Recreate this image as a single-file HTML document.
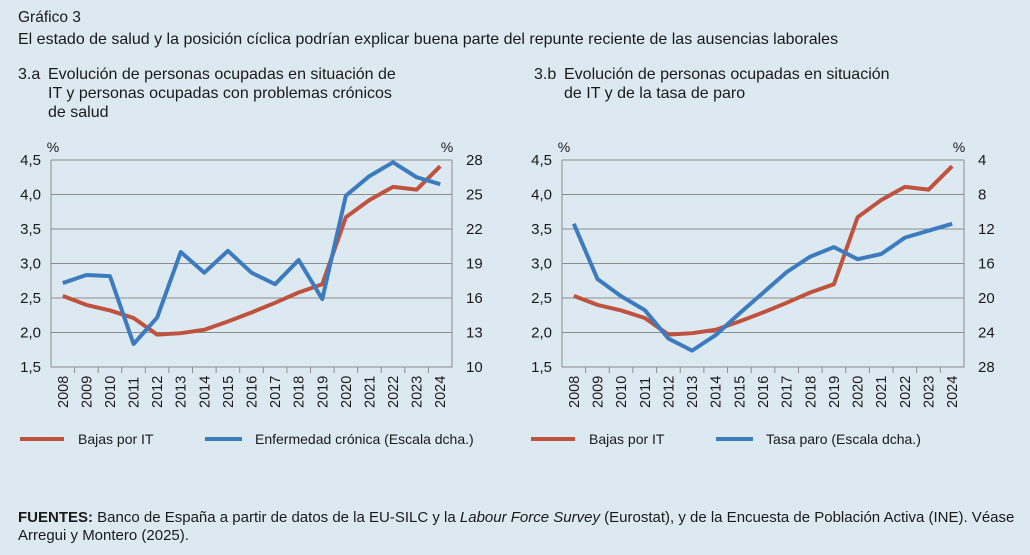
<!DOCTYPE html>
<html><head><meta charset="utf-8"><style>
body{margin:0;background:#dde9f1;}
svg{display:block;font-family:"Liberation Sans",Arial,sans-serif;}
</style></head><body>
<svg id="s" width="1030" height="555" viewBox="0 0 1030 555">
<rect width="1030" height="555" fill="#dde9f1"/>
<text x="18" y="22" font-size="15.5" fill="#1a1a1a">Gráfico 3</text>
<text x="18" y="44" font-size="16" fill="#1a1a1a">El estado de salud y la posición cíclica podrían explicar buena parte del repunte reciente de las ausencias laborales</text>
<g font-size="16" fill="#1a1a1a">
<text x="18" y="79">3.a</text><text x="48" y="79">Evolución de personas ocupadas en situación de</text>
<text x="48" y="98">IT y personas ocupadas con problemas crónicos</text>
<text x="48" y="117">de salud</text></g>
<g font-size="16" fill="#1a1a1a">
<text x="534" y="79">3.b</text><text x="564" y="79">Evolución de personas ocupadas en situación</text>
<text x="564" y="98">de IT y de la tasa de paro</text></g>
<text x="18" y="522" font-size="15" fill="#1a1a1a"><tspan font-weight="bold">FUENTES:</tspan> Banco de España a partir de datos de la EU-SILC y la <tspan font-style="italic">Labour Force Survey</tspan> (Eurostat), y de la Encuesta de Población Activa (INE). Véase</text>
<text x="18" y="540" font-size="15" fill="#1a1a1a">Arregui y Montero (2025).</text>
<g id="ca"></g><g id="cb"></g>
</svg>
<script>
const years=["2008","2009","2010","2011","2012","2013","2014","2015","2016","2017","2018","2019","2020","2021","2022","2023","2024"];
const bajasIT=[2.53,2.40,2.32,2.21,1.97,1.99,2.04,2.16,2.29,2.43,2.58,2.70,3.67,3.92,4.11,4.07,4.41];
const cronica=[17.3,18.0,17.9,12.0,14.3,20.0,18.2,20.1,18.2,17.2,19.3,15.9,24.9,26.6,27.8,26.5,25.9];
const paro=[11.4,17.8,19.8,21.4,24.7,26.1,24.3,21.8,19.4,17.0,15.2,14.1,15.5,14.9,13.0,12.2,11.4];
const leftTicks=["1,5","2,0","2,5","3,0","3,5","4,0","4,5"];
const leftVals=[1.5,2.0,2.5,3.0,3.5,4.0,4.5];
const rightTicksA=["10","13","16","19","22","25","28"];
const rightValsA=[10,13,16,19,22,25,28];
const rightTicksB=["4","8","12","16","20","24","28"];
const rightValsB=[4,8,12,16,20,24,28];
const NS="http://www.w3.org/2000/svg";
function mk(p,t,a){const e=document.createElementNS(NS,t);for(const k in a)e.setAttribute(k,a[k]);p.appendChild(e);return e;}
function chart(g,x0,x1,rMin,rMax,rInv,rVals,rTicks,blue,legB,key){
 const y0=160,y1=367;
 const yL=v=>y1-(v-1.5)/3*(y1-y0);
 const yR=v=>rInv? y0+(v-rMin)/(rMax-rMin)*(y1-y0) : y1-(v-rMin)/(rMax-rMin)*(y1-y0);
 const step=(x1-x0)/years.length;
 const xC=i=>x0+step*(i+0.5);
 leftVals.forEach((v,i)=>{
  if(i>0){const l=mk(g,"line",{x1:x0,x2:x1,y1:yL(v),y2:yL(v),stroke:"#8c8c8c","stroke-width":1});
  
  }
  const t=mk(g,"text",{x:x0-10,y:yL(v)+5,"text-anchor":"end","font-size":15,fill:"#1a1a1a"});t.textContent=leftTicks[i];
  
  
 });
 rVals.forEach((v,i)=>{
  const t=mk(g,"text",{x:x1+14,y:yR(v)+5,"font-size":15,fill:"#1a1a1a"});t.textContent=rTicks[i];
  
  
 });
 const p1=mk(g,"text",{x:x0+2,y:152,"font-size":14,fill:"#1a1a1a","text-anchor":"middle"});p1.textContent="%";
 
 
 const p2=mk(g,"text",{x:x1-5,y:152,"font-size":14,fill:"#1a1a1a","text-anchor":"middle"});p2.textContent="%";
 
 
 const fr=mk(g,"path",{d:`M${x0},${y0}V${y1}H${x1}V${y0}`,fill:"none",stroke:"#8c8c8c","stroke-width":1});
 
 
 years.forEach((yr,i)=>{
  if(i>0){const tk=mk(g,"line",{x1:x0+step*i,x2:x0+step*i,y1:y1,y2:y1+6,stroke:"#8c8c8c"});
  
  }
  const t=mk(g,"text",{transform:`translate(${xC(i)+5},${y1+41}) rotate(-90)`,"font-size":14.5,fill:"#1a1a1a"});t.textContent=yr;
  
  
 });
 const red=mk(g,"polyline",{points:bajasIT.map((v,i)=>xC(i)+","+yL(v)).join(" "),fill:"none",stroke:"#c0533f","stroke-width":4,"stroke-linejoin":"round"});
 
 
 const bl=mk(g,"polyline",{points:blue.map((v,i)=>xC(i)+","+yR(v)).join(" "),fill:"none",stroke:"#3d7bbf","stroke-width":4,"stroke-linejoin":"round"});
 
 
 const lx=x0-31;
 const l1=mk(g,"line",{x1:lx,x2:lx+44,y1:439,y2:439,stroke:"#c0533f","stroke-width":4});
 
 
 const t1=mk(g,"text",{x:lx+58,y:444,"font-size":14,fill:"#1a1a1a"});t1.textContent="Bajas por IT";
 
 
 const l2=mk(g,"line",{x1:lx+185,x2:lx+222,y1:439,y2:439,stroke:"#3d7bbf","stroke-width":4});
 
 
 const t2=mk(g,"text",{x:lx+235,y:444,"font-size":14,fill:"#1a1a1a"});t2.textContent=legB;
 
 
}
chart(document.getElementById("ca"),51,452,10,28,false,rightValsA,rightTicksA,cronica,"Enfermedad crónica (Escala dcha.)","cronica");
chart(document.getElementById("cb"),562,964,4,28,true,rightValsB,rightTicksB,paro,"Tasa paro (Escala dcha.)","paro");
</script>
</body></html>
